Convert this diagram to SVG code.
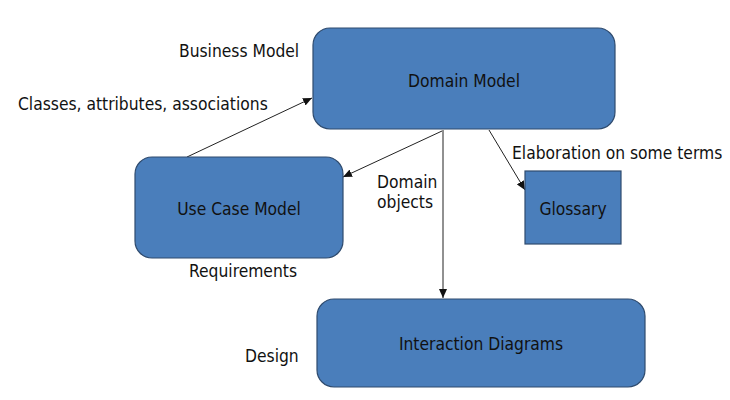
<svg xmlns="http://www.w3.org/2000/svg" width="730" height="400" viewBox="0 0 730 400">
<style>
.box{fill:#4a7ebb;stroke:#2f4b6e;stroke-width:1.2}
.t{font-family:"DejaVu Sans Condensed","DejaVu Sans",sans-serif;font-size:17.3px;fill:#111}
.c{text-anchor:middle}
.e{stroke:#222;stroke-width:1;fill:none;marker-end:url(#ah)}
</style>
<defs>
<marker id="ah" markerWidth="10" markerHeight="8" refX="9" refY="4" orient="auto" markerUnits="userSpaceOnUse">
<path d="M0,0 L9,4 L0,8 z" fill="#111"/>
</marker>
</defs>
<rect width="730" height="400" fill="#fff"/>
<g id="connectors">
<line class="e" x1="187" y1="157" x2="312" y2="98"/>
<line class="e" x1="442" y1="131" x2="343" y2="177"/>
<line class="e" x1="443" y1="130" x2="443" y2="298"/>
<line class="e" x1="489" y1="130" x2="525" y2="190"/>
</g>
<g id="domain-model">
<rect class="box" x="313" y="28" width="302" height="101" rx="17"/>
<text class="t c" x="464" y="87">Domain Model</text>
</g>
<g id="use-case-model">
<rect class="box" x="135" y="157" width="208" height="101" rx="17"/>
<text class="t c" x="239" y="215">Use Case Model</text>
</g>
<g id="glossary">
<rect class="box" x="525" y="171" width="96" height="73"/>
<text class="t c" x="573" y="215">Glossary</text>
</g>
<g id="interaction-diagrams">
<rect class="box" x="317" y="299" width="328" height="88" rx="17"/>
<text class="t c" x="481" y="350">Interaction Diagrams</text>
</g>
<g id="labels">
<text class="t" x="179" y="57">Business Model</text>
<text class="t" x="18" y="110">Classes, attributes, associations</text>
<text class="t" x="512" y="159">Elaboration on some terms</text>
<text class="t" x="377" y="188">Domain</text>
<text class="t" x="377" y="208">objects</text>
<text class="t" x="189" y="277">Requirements</text>
<text class="t" x="245" y="362">Design</text>
</g>
</svg>
